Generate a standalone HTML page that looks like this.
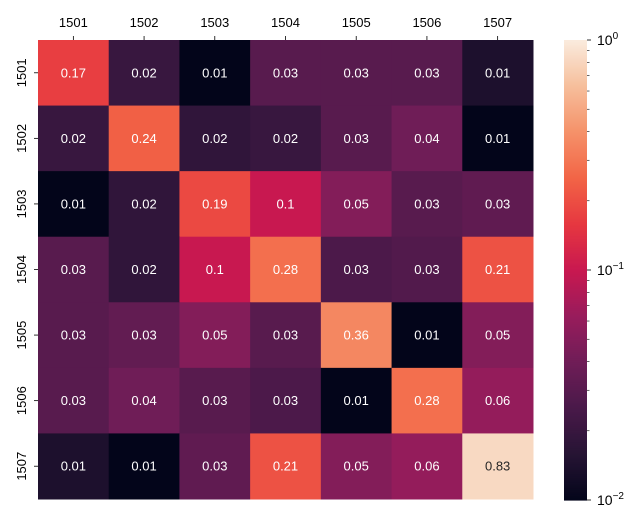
<!DOCTYPE html>
<html><head><meta charset="utf-8"><style>body{margin:0;background:#fff}svg text{font-family:"Liberation Sans","DejaVu Sans",sans-serif}</style></head>
<body>
<svg id="chart" width="644" height="524" xmlns="http://www.w3.org/2000/svg"></svg>
<script>
const categories = ["1501","1502","1503","1504","1505","1506","1507"];
const values = [
 [0.17,0.02,0.008,0.03,0.03,0.03,0.014],
 [0.02,0.24,0.018,0.02,0.03,0.04,0.009],
 [0.009,0.018,0.19,0.1,0.05,0.03,0.033],
 [0.03,0.018,0.1,0.28,0.026,0.028,0.21],
 [0.03,0.034,0.05,0.03,0.36,0.009,0.05],
 [0.03,0.04,0.03,0.026,0.009,0.28,0.06],
 [0.014,0.009,0.033,0.21,0.05,0.06,0.83]
];
const labels = [
 ["0.17","0.02","0.01","0.03","0.03","0.03","0.01"],
 ["0.02","0.24","0.02","0.02","0.03","0.04","0.01"],
 ["0.01","0.02","0.19","0.1","0.05","0.03","0.03"],
 ["0.03","0.02","0.1","0.28","0.03","0.03","0.21"],
 ["0.03","0.03","0.05","0.03","0.36","0.01","0.05"],
 ["0.03","0.04","0.03","0.03","0.01","0.28","0.06"],
 ["0.01","0.01","0.03","0.21","0.05","0.06","0.83"]
];
const vmin=0.01, vmax=1;
const X0=38,X1=533,Y0=40,Y1=499;
const NS="http://www.w3.org/2000/svg";
const svg=document.getElementById('chart');
const stops=[[0,[3,5,26]],[0.1,[38,20,52]],[0.2,[73,25,73]],[0.3,[111,29,87]],[0.4,[152,28,92]],[0.5,[200,24,80]],[0.6,[230,55,64]],[0.7,[242,100,70]],[0.8,[245,145,105]],[0.9,[246,190,155]],[1,[250,235,221]]];
function cmap(t){t=Math.max(0,Math.min(1,t));for(let i=1;i<stops.length;i++){if(t<=stops[i][0]){const a=stops[i-1],b=stops[i];const f=(t-a[0])/(b[0]-a[0]);const c=a[1].map((v,k)=>Math.round(v+(b[1][k]-v)*f));return `rgb(${c})`;}}return 'rgb(250,235,221)';}
function norm(v){return (Math.log10(v)-Math.log10(vmin))/(Math.log10(vmax)-Math.log10(vmin));}
const cw=(X1-X0)/categories.length, ch=(Y1-Y0)/categories.length;
function xs(i){return X0+i*cw;} function ys(i){return Y0+i*ch;}
function el(tag,attrs,parent){const e=document.createElementNS(NS,tag);for(const k in attrs)e.setAttribute(k,attrs[k]);(parent||svg).appendChild(e);return e;}
values.forEach((row,r)=>row.forEach((v,c)=>{
 const t=norm(v);
 const rect=el('rect',{x:xs(c),y:ys(r),width:cw+0.5,height:ch+0.5,fill:cmap(t)});
 
 
 const tx=el('text',{x:xs(c)+cw/2,y:ys(r)+ch/2+4.5,'text-anchor':'middle','font-size':13,fill:t>0.85?'#262626':'#fff'});
 tx.textContent=labels[r][c];
 
 
}));
categories.forEach((cat,i)=>{
 el('line',{x1:xs(i)+cw/2,x2:xs(i)+cw/2,y1:Y0,y2:Y0-4,stroke:'#000','stroke-width':0.8});
 const t=el('text',{x:xs(i)+cw/2,y:Y0-13,'text-anchor':'middle','font-size':13});t.textContent=cat;
 
 
 el('line',{x1:X0,x2:X0-4,y1:ys(i)+ch/2,y2:ys(i)+ch/2,stroke:'#000','stroke-width':0.8});
 const yy=ys(i)+ch/2, xx=26;
 const t2=el('text',{x:xx,y:yy,'text-anchor':'middle','font-size':13,transform:`rotate(-90 ${xx} ${yy})`});t2.textContent=cat;
 
 
});
// colorbar
const CX0=564,CX1=587,CY0=40,CY1=500;
const g=el('g',{});


for(let i=0;i<230;i++){const t0=i/230;el('rect',{x:CX0,y:CY1-(i+1)*(CY1-CY0)/230,width:CX1-CX0,height:(CY1-CY0)/230+0.6,fill:cmap(t0+0.5/230)},g);}
function cy(v){return CY1-norm(v)*(CY1-CY0);}
[0.01,0.1,1].forEach((v,k)=>{
 el('line',{x1:CX1,x2:CX1+4,y1:cy(v),y2:cy(v),stroke:'#000','stroke-width':0.8});
 const t=el('text',{x:CX1+10,y:cy(v)+5,'font-size':14});
 t.innerHTML='10<tspan dy="-6" font-size="10">'+(k==0?'\u22122':k==1?'\u22121':'0')+'</tspan>';
 
 
});
[0.01,0.1].forEach(d=>{for(let m=2;m<=9;m++){const v=d*m;el('line',{x1:CX1,x2:CX1+2.5,y1:cy(v),y2:cy(v),stroke:'#000','stroke-width':0.6});}});
</script>
</body></html>
